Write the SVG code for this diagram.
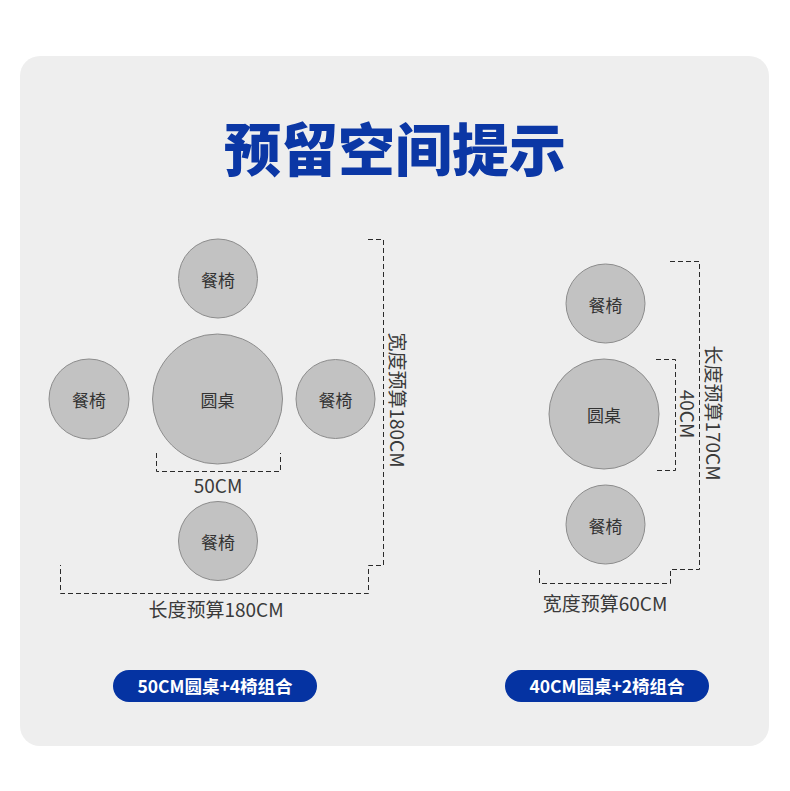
<svg xmlns="http://www.w3.org/2000/svg" width="790" height="791" viewBox="0 0 790 791">
<style>
.seat{fill:#c2c2c2;stroke:#8c8c8c;stroke-width:1}
.lbl{font-family:"Noto Sans CJK SC","Noto Sans",sans-serif;font-size:17px;fill:#333;text-anchor:middle}
.dim{font-family:"Noto Sans CJK SC","Noto Sans",sans-serif;font-size:19px;fill:#3a3a3a;text-anchor:middle}
.dash{fill:none;stroke:#2a2a2a;stroke-width:1;stroke-dasharray:5 3}
.btn{fill:#0533a2}
.btxt{font-family:"Noto Sans CJK SC","Noto Sans",sans-serif;font-size:17.5px;font-weight:700;fill:#fff;text-anchor:middle}
</style>
<rect width="790" height="791" fill="#ffffff"/>
<rect x="20" y="56" width="749" height="690" rx="20" fill="#eeeeee"/>
<text x="395" y="171" font-family="'Noto Sans CJK SC',sans-serif" font-size="57" font-weight="900" fill="#0b37a5" text-anchor="middle">预留空间提示</text>

<g id="connectors">
<path class="dash" d="M156.5,453 V471.5 H280.5 V453"/>
<path class="dash" d="M368,239.5 H383.5 V565.5 H368.5 V593.5 H60.5 V565"/>
<path class="dash" d="M656,359.5 H675.5 V470.5 H656"/>
<path class="dash" d="M670,261.5 H699.5 V569.5 H670.5 V583.5 H539.5 V570"/>
</g>

<g id="left-top-chair"><circle class="seat" cx="218" cy="278.5" r="39.5"/><text class="lbl" x="218" y="286.5">餐椅</text></g>
<g id="left-table"><circle class="seat" cx="217.5" cy="399" r="65"/><text class="lbl" x="217.5" y="407">圆桌</text></g>
<g id="left-left-chair"><circle class="seat" cx="89" cy="399" r="40"/><text class="lbl" x="89" y="407">餐椅</text></g>
<g id="left-right-chair"><circle class="seat" cx="335.5" cy="399" r="39.5"/><text class="lbl" x="335.5" y="407">餐椅</text></g>
<g id="left-bottom-chair"><circle class="seat" cx="218" cy="541" r="39.5"/><text class="lbl" x="218" y="549">餐椅</text></g>

<g id="left-dims">
<text class="dim" x="218" y="493">50CM</text>
<text class="dim" x="216" y="617">长度预算180CM</text>
<text class="dim" transform="translate(390,400) rotate(90)">宽度预算180CM</text>
</g>

<g id="right-top-chair"><circle class="seat" cx="605.5" cy="303.5" r="39.5"/><text class="lbl" x="605.5" y="311.5">餐椅</text></g>
<g id="right-table"><circle class="seat" cx="604" cy="414" r="55"/><text class="lbl" x="604" y="422">圆桌</text></g>
<g id="right-bottom-chair"><circle class="seat" cx="605.5" cy="524.5" r="39.5"/><text class="lbl" x="605.5" y="532.5">餐椅</text></g>

<g id="right-dims">
<text class="dim" transform="translate(680,414) rotate(90)">40CM</text>
<text class="dim" transform="translate(706,413) rotate(90)">长度预算170CM</text>
<text class="dim" x="605" y="611">宽度预算60CM</text>
</g>

<g id="btn-left"><rect class="btn" x="113" y="670" width="204" height="32" rx="16"/><text class="btxt" x="215" y="693">50CM圆桌+4椅组合</text></g>
<g id="btn-right"><rect class="btn" x="505" y="670" width="204" height="32" rx="16"/><text class="btxt" x="607" y="693">40CM圆桌+2椅组合</text></g>
</svg>
